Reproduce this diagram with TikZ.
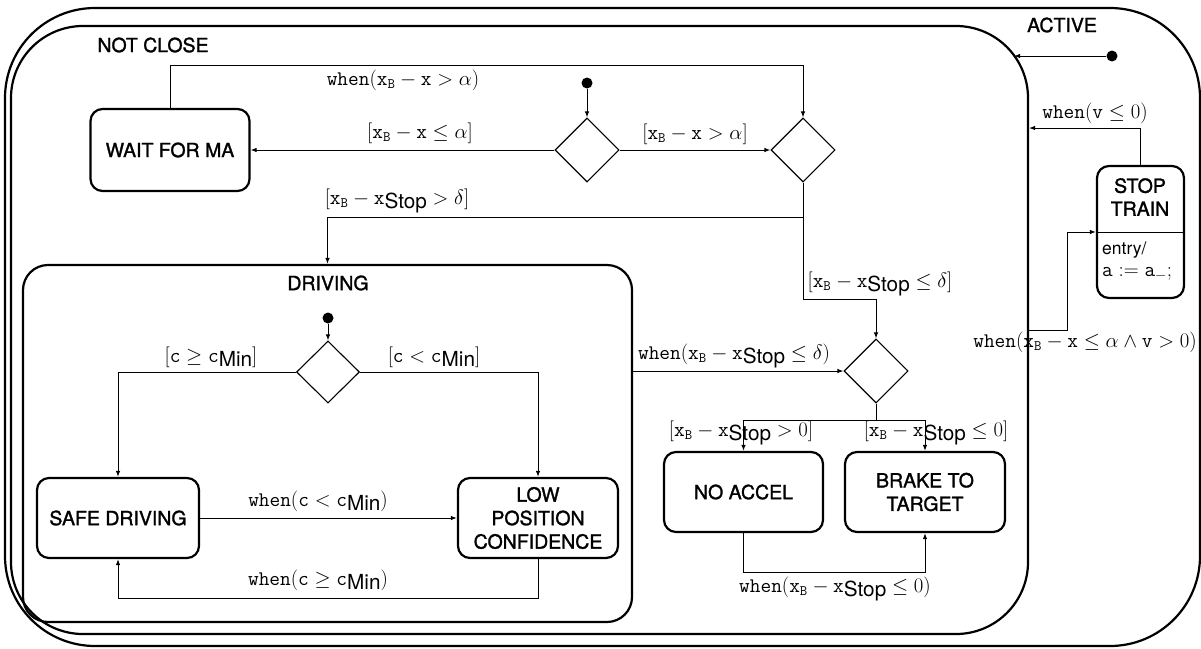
\documentclass[tikz,border=0pt]{standalone}
\usepackage{fontspec}
\newfontfamily\hv{TeX Gyre Heros}
\newfontfamily\hvm[FakeBold=1.4]{TeX Gyre Heros}
\usetikzlibrary{arrows.meta,shapes.geometric}
\newcommand{\stp}{\mbox{\raisebox{-0.5ex}{\hv Stop}}}
\newcommand{\mn}{\mbox{\raisebox{-0.5ex}{\hv Min}}}
\newcommand{\xb}{\mathtt{x}_\mathtt{B}}
\begin{document}
\begin{tikzpicture}[x=1pt,y=-1pt,
  conn/.style={line width=1pt, -{Latex[length=6pt,width=4.5pt]}},
  cont/.style={draw, line width=2.2pt, inner sep=0pt},
  statebox/.style={draw, line width=2.2pt, rounded corners=12pt, inner sep=0pt, align=center, font=\hvm\fontsize{19.5}{23.5}\selectfont},
  ttl/.style={inner sep=0pt, align=center, font=\hvm\fontsize{19.5}{23}\selectfont},
  dec/.style={draw, diamond, line width=1.1pt, minimum width=64pt, minimum height=64pt, inner sep=0pt},
  init/.style={circle, fill, minimum size=11pt, inner sep=0pt},
  lbl/.style={inner sep=0pt, font=\fontsize{20.74}{24}\selectfont}]

\useasboundingbox (0,0) rectangle (1201,648);

% containers
\node[cont, rounded corners=90pt, minimum width=1195pt, minimum height=638pt] (act) at (602.5,327) {};
\node[cont, rounded corners=72pt, minimum width=1017pt, minimum height=608pt] (nc) at (519.5,330) {};
\node[cont, rounded corners=25pt, minimum width=609pt, minimum height=357pt] (drv) at (327.5,443.5) {};

\node[ttl] (tact) at (1062,25) {ACTIVE};
\node[ttl] (tnc) at (153,45) {NOT CLOSE};
\node[ttl] (tdrv) at (328,283) {DRIVING};

% states
\node[statebox, minimum width=159pt, minimum height=82pt] (wait) at (170,150) {WAIT FOR MA};
\node[statebox, minimum width=162pt, minimum height=80pt] (safe) at (118,518) {SAFE DRIVING};
\node[statebox, minimum width=160pt, minimum height=80pt] (low) at (538,518) {LOW\\POSITION\\CONFIDENCE};
\node[statebox, minimum width=159pt, minimum height=80pt] (noacc) at (743.5,492) {NO ACCEL};
\node[statebox, minimum width=160pt, minimum height=80pt] (brake) at (925,492) {BRAKE TO\\TARGET};
\node[statebox, minimum width=87pt, minimum height=132pt] (stop) at (1140.5,232) {};
\node[ttl] (stoptxt) at (1140,197) {STOP\\TRAIN};
\draw[line width=1pt] (stop.west) -- (stop.east);
\node[inner sep=0pt, anchor=west, align=left, font=\hv\fontsize{17.5}{22}\selectfont] (entry) at (1102,261) {entry/\\{\fontsize{20.74}{22}\selectfont$\mathtt{a}:=\mathtt{a}_\mathtt{-};$}};

% decisions and initial states
\node[dec] (d1) at (587,150) {};
\node[dec] (d2) at (803,150) {};
\node[dec] (d3) at (876,371) {};
\node[dec, minimum width=63pt, minimum height=62pt] (d4) at (328,372) {};
\node[init] (i1) at (587,83) {};
\node[init] (i4) at (328,318) {};
\node[init] (ia) at (1112,56) {};

\coordinate (ncA) at (1014,56);
\coordinate (ncB) at (1029,128);
\coordinate (ncC) at (1028,330);

% connectors
\draw[conn] (i1) -- (d1.north);
\draw[conn] (d1.west) -- (wait.east);
\draw[conn] (d1.east) -- (d2.west);
\draw[conn] (wait.north) -- ++(0,-42) -| (d2.north);
\draw[conn] (d2.south) -- ++(0,35) -| (drv.north);
\draw[conn] (d2.south) -- ++(0,117) -| (d3.north);
\draw[conn] (d3.west -| drv.east) -- (d3.west);
\draw[conn] (d3.south) -- ++(0,17) -| (noacc.north);
\draw[conn] (d3.south) -- ++(0,17) -| (brake.north);
\draw[conn] (noacc.south) -- ++(0,39) -| (brake.south);
\draw[conn] (i4) -- (d4.north);
\draw[conn] (d4.west) -| (safe.north);
\draw[conn] (d4.east) -| (low.north);
\draw[conn] (safe.east) -- (low.west);
\draw[conn] (low.south) -- ++(0,39) -| (safe.south);
\draw[conn] (ia) -- (ncA);
\draw[conn] (stop.north) |- (ncB);
\draw[conn] (ncC) -- ++(39,0) |- (stop.west);

% labels
\node[lbl] (l1) at (403,80) {$\mathtt{when}(\xb-\mathtt{x}>\alpha)$};
\node[lbl] (l2) at (420,133) {$[\xb-\mathtt{x}\le\alpha]$};
\node[lbl] (l3) at (695,134) {$[\xb-\mathtt{x}>\alpha]$};
\node[lbl] (l4) at (397,201) {$[\xb-\mathtt{x}\stp>\delta]$};
\node[lbl] (l5) at (880,284) {$[\xb-\mathtt{x}\stp\le\delta]$};
\node[lbl] (l6) at (734,356) {$\mathtt{when}(\xb-\mathtt{x}\stp\le\delta)$};
\node[lbl] (l7) at (741,433) {$[\xb-\mathtt{x}\stp>0]$};
\node[lbl] (l8) at (936,433) {$[\xb-\mathtt{x}\stp\le0]$};
\node[lbl] (l9) at (835,589) {$\mathtt{when}(\xb-\mathtt{x}\stp\le0)$};
\node[lbl] (l10) at (211,357) {$[\mathtt{c}\ge\mathtt{c}\mn]$};
\node[lbl] (l11) at (434,357) {$[\mathtt{c}<\mathtt{c}\mn]$};
\node[lbl] (l12) at (318,501) {$\mathtt{when}(\mathtt{c}<\mathtt{c}\mn)$};
\node[lbl] (l13) at (318,580) {$\mathtt{when}(\mathtt{c}\ge\mathtt{c}\mn)$};
\node[lbl] (l14) at (1095,113) {$\mathtt{when}(\mathtt{v}\le0)$};
\node[lbl] (l15) at (1085,342) {$\mathtt{when}(\xb-\mathtt{x}\le\alpha\wedge\mathtt{v}>0)$};
\end{tikzpicture}
\end{document}
